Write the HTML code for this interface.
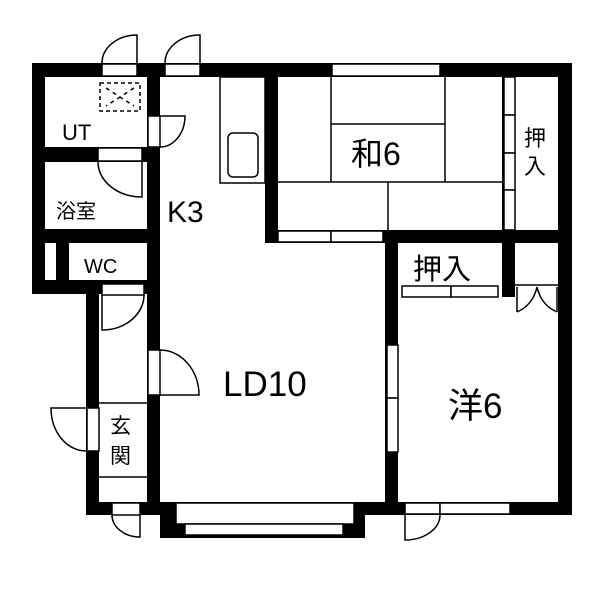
<!DOCTYPE html>
<html><head><meta charset="utf-8"><style>
html,body{margin:0;padding:0;background:#fff}
svg{display:block}
text{font-family:"Liberation Sans","Noto Sans CJK JP",sans-serif;fill:#000}
</style></head><body>
<svg width="600" height="600" viewBox="0 0 600 600" xmlns="http://www.w3.org/2000/svg">
<g fill="#000">
<!-- outer top wall -->
<rect x="32" y="63" width="540" height="14"/>
<!-- left wall upper -->
<rect x="32" y="63" width="13" height="231"/>
<!-- band under WC -->
<rect x="32" y="280" width="128" height="14"/>
<!-- corridor left wall -->
<rect x="86" y="280" width="13" height="235"/>
<!-- wall K/UT column -->
<rect x="147" y="63" width="13" height="452"/>
<!-- UT/bath wall -->
<rect x="32" y="147" width="128" height="15"/>
<!-- bath/WC wall -->
<rect x="32" y="229" width="128" height="14"/>
<!-- WC small wall -->
<rect x="56" y="243" width="13" height="40"/>
<!-- bottom wall -->
<rect x="86" y="502" width="486" height="13"/>
<!-- bay -->
<rect x="160" y="502" width="205" height="36"/>
<!-- right outer wall -->
<rect x="558" y="63" width="14" height="452"/>
<!-- washitsu left wall -->
<rect x="265" y="63" width="13" height="179"/>
<!-- washitsu bottom wall -->
<rect x="265" y="230" width="307" height="13"/>
<!-- LD/洋 wall -->
<rect x="385" y="230" width="13" height="285"/>
<!-- closet divider -->
<rect x="502" y="230" width="13" height="67"/>
<rect x="502" y="77" width="13" height="153"/>
</g>
<g fill="#fff" stroke="#000" stroke-width="1.5">
<!-- white gap left of WC -->
<rect x="45" y="243" width="11" height="37" stroke="none"/>
<!-- top door openings -->
<rect x="102" y="64" width="35" height="12"/>
<rect x="165" y="64" width="35" height="12"/>
<!-- top window washitsu -->
<rect x="332" y="64" width="108" height="12"/>
<!-- washitsu bottom windows -->
<rect x="278" y="231" width="53" height="11"/>
<rect x="331" y="231" width="52" height="11"/>
<!-- washitsu/closet sliding panels -->
<rect x="504" y="77" width="11" height="38"/>
<rect x="504" y="115" width="11" height="38"/>
<rect x="504" y="153" width="11" height="37"/>
<rect x="504" y="190" width="11" height="40"/>
<!-- UT-K door -->
<rect x="148" y="116" width="12" height="31"/>
<!-- bath door -->
<rect x="98" y="148" width="44" height="13"/>
<!-- WC door -->
<rect x="102" y="284" width="42" height="11"/>
<!-- LD door -->
<rect x="148" y="350" width="12" height="45"/>
<!-- entrance door -->
<rect x="87" y="408" width="12" height="43"/>
<!-- bottom left door -->
<rect x="112" y="503" width="28" height="12"/>
<!-- bay windows -->
<rect x="176" y="503" width="178" height="21"/>
<rect x="185" y="524" width="158" height="11"/>
<!-- 洋 bottom -->
<rect x="405" y="503" width="35" height="11"/>
<rect x="440" y="503" width="70" height="11"/>
<!-- LD/洋 window -->
<rect x="387" y="345" width="11" height="53"/>
<rect x="387" y="398" width="11" height="54"/>
<!-- lower closet sliding -->
<rect x="402" y="286" width="49" height="11"/>
<rect x="451" y="286" width="47" height="11"/>
<rect x="516" y="286" width="41" height="11" stroke="none"/>
</g>
<g fill="none" stroke="#000" stroke-width="1.5">
<!-- door arcs -->
<path d="M137 63 V35 A35 28 0 0 0 102 63"/>
<path d="M200 63 V35 A35 28 0 0 0 165 63"/>
<path d="M160 116 H185 A25 31 0 0 1 160 147"/>
<path d="M142 162 V197 A44 35 0 0 1 98 162"/>
<path d="M102 295 V330 A42 35 0 0 0 144 295"/>
<path d="M160 350 A39 45 0 0 1 199 395 H160"/>
<path d="M86 408 H51 A35 43 0 0 0 86 451"/>
<path d="M140 515 V537 A28 22 0 0 1 112 515"/>
<path d="M405 515 V540 A35 25 0 0 0 440 515"/>
<!-- kitchen -->
<rect x="220" y="77" width="45" height="106"/>
<rect x="228" y="133" width="30" height="44" rx="5"/>
<!-- tatami -->
<path d="M331 77 V182 M331 124 H445 M445 77 V182 M278 182 H502 M388 182 V230"/>
<!-- 玄関 box -->
<path d="M99 403 H147 M99 477 H147"/>
<!-- small closet doors -->
<path d="M517 287 V312 M557 287 V312 M517 312 Q533 305 537 287 Q541 305 557 312 M515 285 H558"/>
<!-- UT dashed -->
<rect x="100" y="83" width="40" height="28" stroke-dasharray="4,3"/>
<path d="M106 88 L134 106 M134 88 L106 106" stroke-dasharray="4,4"/>
</g>
<text x="62" y="140" font-size="22">UT</text>
<text x="56" y="218" font-size="20">浴室</text>
<text x="167" y="222" font-size="30">K3</text>
<text x="84" y="273" font-size="20">WC</text>
<text x="351" y="165" font-size="32">和6</text>
<text x="524" y="146" font-size="22">押</text>
<text x="524" y="174" font-size="22">入</text>
<text x="413" y="279" font-size="29">押入</text>
<text x="223" y="396" font-size="35">LD10</text>
<text x="448" y="418" font-size="35">洋6</text>
<text x="110" y="433" font-size="21">玄</text>
<text x="110" y="463" font-size="21">関</text>
</svg>
</body></html>
